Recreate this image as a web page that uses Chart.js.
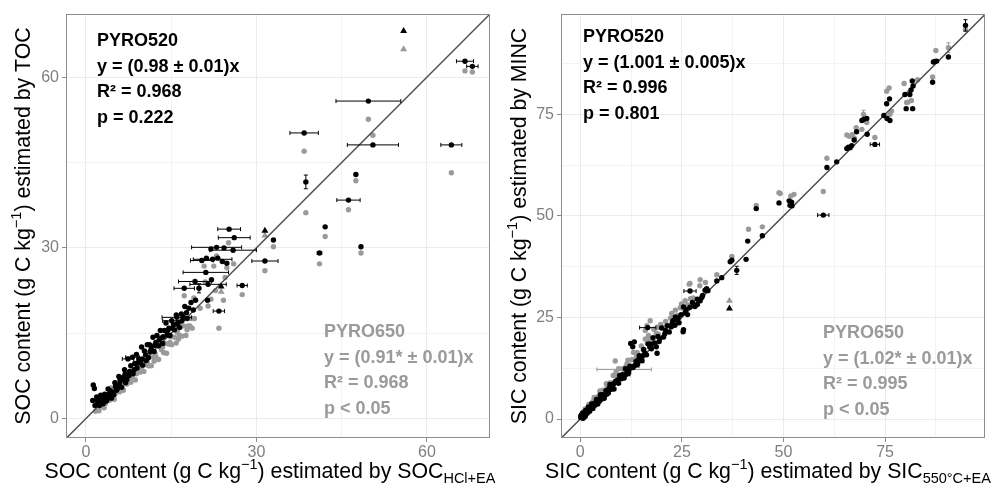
<!DOCTYPE html>
<html>
<head>
<meta charset="utf-8">
<script src="https://cdn.jsdelivr.net/npm/chart.js@4.4.1/dist/chart.umd.min.js"></script>
<style>
  html, body { margin: 0; padding: 0; background: #fff; }
  .wrap { display: flex; width: 992px; height: 488px; }
  canvas { display: block; }
</style>
</head>
<body>
<div class="wrap">
  <canvas id="soc-chart" width="496" height="488"></canvas>
  <canvas id="sic-chart" width="496" height="488"></canvas>
</div>
<script>
// points are [x, y, xErr, yErr]
const socBlack = [
  [1.3,5.9],[1.5,5.3],[1.2,3.2],[1.6,2.3],[1.9,3.8],[2.1,2.7],[2.4,2.3],[2.6,4.1],[2.8,3.0],[3.0,2.6],
  [3.3,4.3],[3.5,3.9],[3.6,3.1],[3.9,5.2],[4.2,3.9],[4.3,4.9],[4.6,4.7],[4.9,4.2],[5.1,6.3],[5.2,5.6],
  [5.6,5.4],[5.8,7.4],[6.0,6.7],[6.3,5.5],[6.5,6.8],[6.8,8.6],[6.9,7.8],[7.2,6.9],[7.4,10.5,1.0],[7.7,8.3],
  [7.9,9.3],[8.2,10.8,1.2],[8.3,7.9],[8.6,9.7],[8.9,11.3],[9.0,8.9],[9.3,10.5],[9.5,9.9],[9.8,12.6],[10.0,9.4],
  [10.3,11.9],[10.5,11.2],[10.8,13.0],[11.0,10.7],[11.2,13.0],[11.5,12.4],[11.8,14.3],[12.0,11.8],[12.3,13.4],[12.5,14.6],
  [12.8,12.8],[13.1,15.5],[13.3,14.2],[13.5,13.2],[13.8,15.5],[14.1,16.8],[14.3,14.7],[14.6,15.9],[14.8,14.6],[15.1,17.2,1.6],
  [15.4,16.5],[15.6,15.6],[15.9,18.2],[16.2,16.9],[16.5,16.0],[16.8,18.4],[17.1,17.9],[17.4,19.7],[17.8,17.6],[18.1,19.4],
  [18.5,20.4],[18.9,19.1],[19.3,20.8],[16.0,17.8,2.6],
  [2.0,3.3],[2.3,3.7],[2.9,3.5],[3.2,2.9],[3.8,3.5],[4.1,4.4],[4.5,3.6],[5.4,5.0],[5.9,6.0],[6.6,7.3],
  [7.0,6.3],[7.6,7.6],[8.5,8.6],[9.1,9.8],[9.9,10.5],[10.6,10.2],[11.3,11.8],[12.1,12.9],[12.9,13.8],[13.6,14.4],
  [14.4,15.5],[15.2,15.9],[16.0,16.6],[16.9,17.2],[17.7,18.6],
  [23.4,18.9,1.0],[21.4,20.8],[19.9,22.9,0,0.8],[17.3,22.9,1.8],[27.5,23.4,0.9],[21.5,23.6,3.2],[22.1,24.4],[21.1,25.7,4.0],[19.2,24.1,2.9],
  [20.4,27.8,2.0],[21.2,28.2],[22.3,28.0,3.4],[23.2,28.2],[24.0,27.6],[24.8,27.3],[31.5,27.7,2.3],[23.0,30.1,4.4],[25.9,29.6,4.1],[22.0,29.8],
  [24.3,30.0],[26.1,31.8,2.8],[25.2,33.3,2.0],[33.0,31.4],[38.4,50.2,2.5],[49.7,55.8,5.7],[50.5,48.1,4.5],[64.3,48.1,1.85],[47.5,42.9],[38.7,41.6,0,1.2],
  [46.2,38.4,2.05],[42.1,33.7],[41.1,29.1,0.4],[48.4,30.2],[66.7,62.8,1.5],[68.0,61.9,1.0]
];
const socGrey = [
  [1.7,1.3],[2.0,2.7],[2.3,1.4],[2.7,2.8],[2.8,3.8],[3.2,1.9],[3.6,3.3],[3.7,4.0],[4.1,3.2],[4.4,5.4],
  [4.6,4.0],[5.0,3.4],[5.3,5.3],[5.4,5.0],[5.9,4.7],[6.1,6.5],[6.4,6.0],[6.6,5.0],[7.0,7.1],[7.2,6.1],
  [7.5,8.0],[7.9,6.4],[8.0,7.3],[8.4,8.2],[8.7,6.8],[8.9,7.9],[9.3,9.4],[9.6,8.2],[9.8,9.1],[10.2,8.3],
  [10.5,10.2],[10.6,9.5],[11.0,9.3],[11.3,11.5],[11.5,9.3],[11.9,10.8],[12.2,11.4],[12.4,10.7],[12.8,10.4],[13.1,12.6],
  [13.3,12.1],[13.7,11.6],[14.0,13.2],[14.2,11.5],[14.6,13.1],[14.9,14.4],[15.1,13.0],[15.6,14.3],[15.9,13.3],[16.1,15.2],
  [16.5,14.6],[16.9,14.5],[17.2,16.3],[17.6,14.6],[18.0,16.3],[18.3,16.3],[18.7,15.9],[19.1,17.6],
  [2.5,2.2],[3.4,2.6],[4.3,3.4],[5.1,4.3],[6.3,5.3],[7.4,6.8],[8.2,7.2],[9.5,8.6],[10.8,9.9],[12.0,10.1],
  [13.5,12.6],[14.8,13.4],[16.3,14.0],[17.8,15.6],
  [17.3,21.6],[20.1,19.4],[23.4,15.9],[27.5,21.8],[19.0,21.2],[22.0,21.0],[24.2,20.8],[21.0,24.0],[22.8,22.5],[24.5,24.8],
  [22.5,26.8],[24.8,26.5],[20.8,26.8],[25.1,30.9],[23.0,28.6],[31.5,26.0],[33.0,30.2],[26.0,27.2],[18.5,17.6],[21.5,19.8],
  [38.4,47.0],[49.7,52.6],[50.5,49.8],[64.3,43.2],[47.5,41.8],[38.7,36.2],[46.2,36.7],[42.1,32.0],[41.1,27.2],[48.4,29.1],
  [66.7,61.1],[68.0,60.9]
];
const socBlackTri = [[31.5,33.0],[23.8,23.2],[55.9,68.1]];
const socGreyTri = [[31.5,32.2],[23.8,22.3],[55.9,64.9]];

const sicBlack = [
  [0.1,0.4],[0.3,1.0],[0.4,0.3],[0.6,1.5],[0.8,1.0],[0.9,1.4],[1.1,0.9],[1.3,2.1],[1.4,1.5],[1.7,1.4],
  [1.9,2.5],[2.0,3.0],[2.3,1.9],[2.6,2.8],[2.8,3.7],[3.1,2.6],[3.4,3.8],[3.6,3.4],[4.0,4.8],[4.3,3.7],
  [4.5,4.8],[4.9,6.0],[5.3,4.9],[5.5,6.0],[5.9,5.1],[6.3,7.0],[6.6,6.7],[6.9,6.4],[7.3,8.5],[7.6,7.3],
  [8.0,8.4],[8.3,7.4],[8.7,9.3],[9.0,9.2],[9.4,8.8],[9.7,10.7],[10.1,9.9],[10.4,10.9],[10.8,10.1],[11.1,12.4],
  [11.5,11.6],[11.9,11.4],[12.2,13.0],[12.6,12.9],[13.0,12.7],[13.4,13.2],[13.7,14.2],[14.1,13.5],[14.5,15.6],[14.8,15.0],
  [15.2,14.4],[15.6,17.1],[15.9,16.2],[16.3,15.8],[16.7,18.5],[17.1,17.7],[17.5,17.3],[17.9,20.0],[18.3,18.7],[18.7,17.8],
  [19.1,20.3],[19.6,19.8],[20.0,22.4],[20.5,20.2],[21.0,21.8],[21.4,23.0],[21.9,21.4],[22.4,22.7],[22.8,24.2],[23.3,23.1],
  [23.8,24.4],[24.3,23.7],[24.8,25.7],[25.3,21.5],[25.8,26.2],[26.4,25.7],[27.0,27.5],[27.6,28.7],[28.2,27.7],[28.8,29.5],
  [29.5,29.1],[30.1,30.4],[30.7,31.7],[31.4,31.6],
  [0.2,0.9],[0.5,0.6],[0.7,0.2],[1.0,1.2],[1.2,0.6],[1.6,2.0],[2.2,2.4],[3.0,3.2],[3.8,4.1],[4.7,4.4],
  [5.6,5.6],[6.5,6.1],[7.1,7.6],[8.2,8.7],[9.2,9.6],[10.3,10.3],[11.3,11.0],[12.0,12.1],[14.3,14.6],[15.4,15.6],
  [17.3,18.4],[19.4,19.1],[20.8,21.0],[22.6,23.5],[24.1,24.9],[26.0,27.0],
  [13.3,19.0],[12.9,17.8],[12.4,18.6],[18.9,16.2],[16.6,22.5,2.0],[27.0,31.5,1.5],[28.8,28.2],[25.4,27.6],[23.4,25.1],[25.4,22.0],
  [31.1,32.1],[29.9,29.9],[33.6,34.0],[34.8,34.8],[38.5,36.6,0,1.0],[36.9,38.7],[37.3,39.1],[40.8,39.3],[41.2,43.8],[44.8,45.1],
  [43.3,51.8],[48.9,53.2],[51.6,52.6],[52.0,53.4],[51.4,53.7],[52.1,52.5],[59.8,50.2,1.4],[60.7,61.9],[63.1,63.3],[65.6,66.6],
  [66.0,66.9],[66.4,66.8],[66.8,67.3],[67.4,68.7],[68.0,70.7],[70.6,70.1],[72.5,67.6,1.15],[69.3,73.5],[70.5,74.0],[69.8,73.8],
  [74.7,74.7],[75.5,74.0],[76.2,73.5],[75.4,77.6],[76.1,78.8],[79.9,79.9],[80.2,76.4],[81.8,76.4],[81.1,79.9],[81.7,83.2],
  [81.9,82.0],[81.4,81.0],[86.7,82.9],[86.9,87.9],[87.3,88.0],[87.7,88.1],[90.6,89.1],[94.8,96.9,0,1.4]
];
const sicGrey = [
  [0.2,0.8],[0.5,0.7],[0.7,1.7],[1.0,1.4],[1.2,2.5],[1.5,1.4],[1.8,2.7],[2.1,3.6],[2.4,2.8],[2.7,3.9],
  [3.0,3.7],[3.4,5.3],[3.7,4.0],[4.1,5.4],[4.4,5.2],[4.8,6.9],[5.2,5.7],[5.6,7.1],[6.0,6.9],[6.4,8.7],
  [6.8,7.0],[7.2,8.9],[7.7,8.8],[8.1,10.7],[8.5,9.2],[9.0,10.5],[9.4,12.4],[9.9,10.8],[10.3,12.4],[10.8,11.3],
  [11.2,12.9],[11.7,14.5],[12.1,13.1],[12.6,14.6],[13.1,16.4],[13.6,14.9],[14.0,16.4],[14.5,15.2],[15.0,18.0],[15.5,17.0],
  [16.0,19.7],[16.5,18.6],[17.0,19.8],[17.6,19.1],[18.1,22.1],[18.7,21.1],[19.2,20.9],[19.8,23.3],[20.4,22.5],[21.0,24.0],
  [21.6,22.9],[22.2,24.8],[22.8,24.8],[23.4,26.8],[24.0,25.5],[24.6,27.4],[25.2,27.3],[25.8,29.1],[26.4,28.1],[27.1,29.6],
  [27.8,29.8],
  [0.4,1.2],[1.1,2.0],[2.0,2.1],[3.2,4.4],[5.0,6.3],[6.6,8.0],[8.8,11.6],[11.5,13.6],[13.9,15.8],[16.8,20.6],
  [19.0,22.6],[22.5,26.0],[24.9,28.3],
  [27.0,33.4],[26.8,33.2],[29.4,32.8],[29.5,34.3],[30.8,33.6],[33.6,35.5],[8.6,14.3],[10.8,12.2,6.7],[16.4,23.0],[17.2,24.2],
  [16.0,21.8],[37.3,40.0],[41.4,46.7],[44.8,47.3],[43.3,52.6],[48.9,55.7],[51.8,54.9],[52.6,55.3],[49.2,55.5],[59.8,56.0],
  [60.7,64.2],[65.6,69.9],[66.2,69.6],[66.9,70.0],[67.4,69.2],[67.9,71.7],[69.3,71.3],[72.5,69.3],[70.5,73.0],[69.7,75.0,0,1.0],
  [75.4,80.7],[76.0,81.5],[76.2,75.0],[76.6,75.8],[79.7,82.6],[80.3,77.9],[81.5,78.4],[80.6,78.0],[83.0,83.5],[86.7,84.2],
  [87.5,90.7],[90.6,91.4,0,1.2],[94.8,95.9]
];
const sicBlackTri = [[36.7,27.2],[5.5,5.2],[7.8,7.4],[9.3,9.0],[11.6,11.0],[13.8,13.2],[15.0,14.2]];
const sicGreyTri = [[36.7,29.1]];

const socMajor = [0, 30, 60];
const socMinor = [15, 45];
const sicMajor = [0, 25, 50, 75];
const sicMinor = [12.5, 37.5, 62.5, 87.5];

const FONT = '"Liberation Sans", Arial, Helvetica, sans-serif';
const BLACK = '#000000';
const GREY = '#9a9a9a';

Chart.defaults.font.family = FONT;

function toPoints(arr) {
    return arr.map(([x, y, xe = 0, ye = 0]) => ({ x, y, xe, ye }));
}

function drawRich(ctx, parts, cx, cy, angle) {
    ctx.save();
    ctx.translate(cx, cy);
    ctx.rotate(angle);
    ctx.fillStyle = '#000';
    ctx.textBaseline = 'alphabetic';
    let total = 0;
    parts.forEach(p => {
        ctx.font = (p.small ? '14.5px ' : '21.3px ') + FONT;
        p.w = ctx.measureText(p.t).width;
        total += p.w;
    });
    let pos = -total / 2;
    parts.forEach(p => {
        ctx.font = (p.small ? '14.5px ' : '21.3px ') + FONT;
        ctx.fillText(p.t, pos, p.dy || 0);
        pos += p.w;
    });
    ctx.restore();
}

function makeDecor(cfg) {
    return {
        id: 'decor',
        beforeDatasetDraw(chart, args) {
            const ds = chart.data.datasets[args.index];
            if (!ds.errColor) return;
            const { ctx, chartArea: a } = chart;
            const xs = chart.scales.x, ys = chart.scales.y;
            ctx.save();
            ctx.beginPath();
            ctx.rect(a.left, a.top, a.right - a.left, a.bottom - a.top);
            ctx.clip();
            ctx.strokeStyle = ds.errColor;
            ctx.lineWidth = 1;
            ds.data.forEach(p => {
                const px = xs.getPixelForValue(p.x), py = ys.getPixelForValue(p.y);
                ctx.beginPath();
                if (p.xe) {
                    const l = xs.getPixelForValue(p.x - p.xe), r = xs.getPixelForValue(p.x + p.xe);
                    ctx.moveTo(l, py); ctx.lineTo(r, py);
                    ctx.moveTo(l, py - 2); ctx.lineTo(l, py + 2);
                    ctx.moveTo(r, py - 2); ctx.lineTo(r, py + 2);
                }
                if (p.ye) {
                    const t = ys.getPixelForValue(p.y + p.ye), b = ys.getPixelForValue(p.y - p.ye);
                    ctx.moveTo(px, t); ctx.lineTo(px, b);
                    ctx.moveTo(px - 2, t); ctx.lineTo(px + 2, t);
                    ctx.moveTo(px - 2, b); ctx.lineTo(px + 2, b);
                }
                ctx.stroke();
            });
            ctx.restore();
        },
        afterDraw(chart) {
            const { ctx, chartArea: a } = chart;
            ctx.save();
            // panel border
            ctx.strokeStyle = '#8c8c8c';
            ctx.lineWidth = 1;
            ctx.strokeRect(Math.round(a.left) + 0.5, Math.round(a.top) + 0.5,
                Math.round(a.right - a.left) - 1, Math.round(a.bottom - a.top) - 1);

            // regression text blocks
            ctx.font = 'bold 18px ' + FONT;
            ctx.textBaseline = 'alphabetic';
            cfg.blocks.forEach(b => {
                ctx.fillStyle = b.color;
                b.lines.forEach((line, i) => ctx.fillText(line, b.x, b.y + i * 25.5));
            });
            ctx.restore();

            drawRich(ctx, cfg.xTitle, cfg.xTitleX, 478, 0);
            drawRich(ctx, cfg.yTitle, cfg.yTitleX, (a.top + a.bottom) / 2, -Math.PI / 2);
        }
    };
}

function makeChart(canvasId, cfg) {
    const majors = cfg.major;
    const allTicks = cfg.major.concat(cfg.minor).sort((p, q) => p - q);
    const axis = (min, max, isX) => ({
        type: 'linear',
        min: min,
        max: max,
        afterBuildTicks: scale => { scale.ticks = allTicks.map(v => ({ value: v })); },
        afterFit: scale => {
            if (isX) scale.height = 50; else scale.width = cfg.yWidth;
        },
        border: { display: false },
        grid: {
            color: '#ebebeb',
            lineWidth: c => majors.includes(c.tick.value) ? 1 : 0.6,
            drawTicks: true,
            tickLength: 4,
            tickColor: c => majors.includes(c.tick.value) ? '#8c8c8c' : 'rgba(0,0,0,0)',
            tickWidth: 1
        },
        ticks: {
            color: '#7f7f7f',
            font: { size: 16 },
            padding: isX ? 1 : 3,
            maxRotation: 0,
            autoSkip: false,
            callback: v => majors.includes(v) ? String(v) : ''
        }
    });

    return new Chart(document.getElementById(canvasId).getContext('2d'), {
        type: 'scatter',
        data: {
            datasets: [
                {
                    label: 'PYRO520 ref', data: toPoints(cfg.blackTri), order: 0,
                    pointStyle: 'triangle', pointRadius: 4, backgroundColor: BLACK, borderColor: BLACK, borderWidth: 0
                },
                {
                    label: 'PYRO520', data: toPoints(cfg.black), order: 1, errColor: BLACK,
                    pointRadius: 2.7, backgroundColor: BLACK, borderWidth: 0
                },
                {
                    label: '1:1', data: [{ x: -20, y: -20 }, { x: 120, y: 120 }], order: 2,
                    showLine: true, pointRadius: 0, borderColor: '#4d4d4d', borderWidth: 1.4
                },
                {
                    label: 'PYRO650 ref', data: toPoints(cfg.greyTri), order: 3,
                    pointStyle: 'triangle', pointRadius: 4, backgroundColor: GREY, borderColor: GREY, borderWidth: 0
                },
                {
                    label: 'PYRO650', data: toPoints(cfg.grey), order: 4, errColor: GREY,
                    pointRadius: 2.7, backgroundColor: GREY, borderWidth: 0
                }
            ]
        },
        options: {
            responsive: false,
            animation: false,
            devicePixelRatio: 1,
            layout: { padding: { left: 0, top: 14, right: cfg.padRight, bottom: 0 } },
            plugins: { legend: { display: false }, tooltip: { enabled: false } },
            scales: {
                x: axis(cfg.xRange[0], cfg.xRange[1], true),
                y: axis(cfg.yRange[0], cfg.yRange[1], false)
            }
        },
        plugins: [makeDecor(cfg)]
    });
}

makeChart('soc-chart', {
    black: socBlack, grey: socGrey, blackTri: socBlackTri, greyTri: socGreyTri,
    major: socMajor, minor: socMinor,
    xRange: [-3.5, 71.1], yRange: [-3.4, 71.1],
    yWidth: 66, padRight: 6, yTitleX: 30, xTitleX: 270,
    blocks: [
        { color: BLACK, x: 97, y: 46, lines: ['PYRO520', 'y = (0.98 ± 0.01)x', 'R² = 0.968', 'p = 0.222'] },
        { color: GREY, x: 324, y: 337, lines: ['PYRO650', 'y = (0.91* ± 0.01)x', 'R² = 0.968', 'p < 0.05'] }
    ],
    xTitle: [
        { t: 'SOC content (g C kg' }, { t: '−1', small: true, dy: -9 },
        { t: ') estimated by SOC' }, { t: 'HCl+EA', small: true, dy: 5 }
    ],
    yTitle: [
        { t: 'SOC content (g C kg' }, { t: '−1', small: true, dy: -9 },
        { t: ') estimated by TOC' }
    ]
});

makeChart('sic-chart', {
    black: sicBlack, grey: sicGrey, blackTri: sicBlackTri, greyTri: sicGreyTri,
    major: sicMajor, minor: sicMinor,
    xRange: [-4.75, 99.6], yRange: [-4.67, 99.7],
    yWidth: 65, padRight: 7, yTitleX: 30, xTitleX: 272,
    blocks: [
        { color: BLACK, x: 87, y: 42, lines: ['PYRO520', 'y = (1.001 ± 0.005)x', 'R² = 0.996', 'p = 0.801'] },
        { color: GREY, x: 327, y: 338, lines: ['PYRO650', 'y = (1.02* ± 0.01)x', 'R² = 0.995', 'p < 0.05'] }
    ],
    xTitle: [
        { t: 'SIC content (g C kg' }, { t: '−1', small: true, dy: -9 },
        { t: ') estimated by SIC' }, { t: '550°C+EA', small: true, dy: 5 }
    ],
    yTitle: [
        { t: 'SIC content (g C kg' }, { t: '−1', small: true, dy: -9 },
        { t: ') estimated by MINC' }
    ]
});
</script>
</body>
</html>
